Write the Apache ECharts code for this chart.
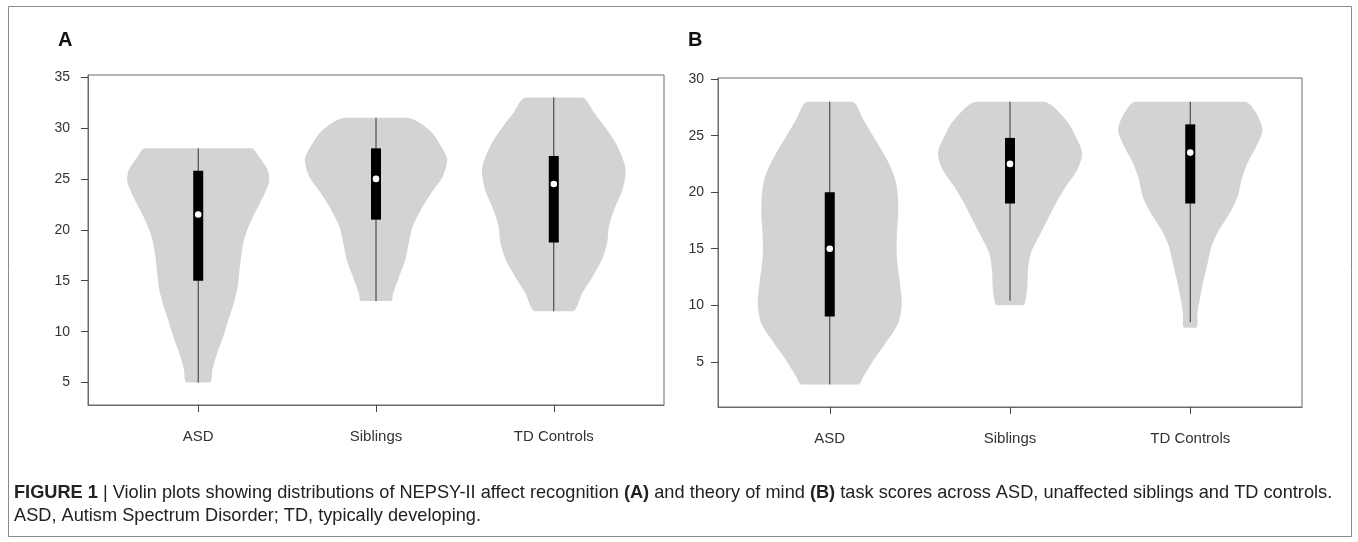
<!DOCTYPE html>
<html lang="en">
<head>
<meta charset="utf-8">
<title>NEPSY-II violin plots</title>
<script src="https://cdn.jsdelivr.net/npm/echarts@6.0.0/dist/echarts.min.js"></script>
<style>
  html, body { margin: 0; padding: 0; background: #fff; }
  #main { width: 1358px; height: 542px; }
</style>
</head>
<body>
<div id="main"></div>
<script>
// groups along the x axis (placed at 1, 2, 3)
var groups = ['ASD', 'Siblings', 'TD Controls'];

// box stats per group: [whisker low, q1, median, q3, whisker high]
var statsA = [
    [5, 15, 21.5, 25.8, 28],
    [13, 21, 25, 28, 31],
    [12, 18.75, 24.5, 27.25, 33]
];
var statsB = [
    [3, 9, 15, 20, 28],
    [10.4, 19, 22.5, 24.8, 28],
    [8.5, 19, 23.5, 26, 28]
];

// violin outlines, bottom to top: [score, half width in group units]
var violinA_asd = [[5, 0.066], [6.25, 0.08], [7.9, 0.107], [9.5, 0.14], [11.2, 0.17], [12.8, 0.2], [14.4, 0.222], [16, 0.232], [17.7, 0.244], [19.3, 0.262], [21, 0.3], [22.6, 0.347], [24, 0.385], [24.9, 0.4], [25.9, 0.39], [27.2, 0.34], [28, 0.3]];
var violinA_sib = [[13, 0.083], [13.8, 0.097], [15.4, 0.13], [17.05, 0.165], [18.7, 0.184], [20.3, 0.206], [22, 0.253], [23.6, 0.31], [25.2, 0.375], [26.9, 0.4], [28.5, 0.356], [29.8, 0.3], [31, 0.18]];
var violinA_td = [[12, 0.107], [13.8, 0.16], [15.4, 0.218], [17.05, 0.27], [18.7, 0.3], [20.3, 0.31], [22, 0.34], [23.9, 0.386], [25.9, 0.405], [28.2, 0.358], [29.8, 0.3], [31.5, 0.227], [33, 0.16]];
var violinB_asd = [[3, 0.157], [3.7, 0.187], [5.16, 0.243], [6.6, 0.307], [8.4, 0.38], [10.2, 0.4], [11.9, 0.39], [14.3, 0.372], [16.1, 0.372], [18.4, 0.38], [20.5, 0.372], [22, 0.344], [23.45, 0.298], [24.9, 0.243], [26.4, 0.187], [28, 0.126]];
var violinB_sib = [[10, 0.072], [10.5, 0.087], [11.65, 0.096], [13.1, 0.1], [14.6, 0.115], [16.1, 0.161], [17.55, 0.207], [19, 0.254], [20.5, 0.31], [22, 0.374], [23.45, 0.4], [24.9, 0.365], [26.4, 0.31], [28, 0.19]];
var violinB_td = [[8, 0.035], [9.3, 0.04], [10.8, 0.056], [12.2, 0.074], [13.7, 0.096], [15.2, 0.118], [16.7, 0.161], [18.1, 0.217], [19.6, 0.263], [21.1, 0.285], [22.6, 0.318], [24, 0.365], [25.5, 0.4], [27, 0.365], [28, 0.305]];

var ticksA = [5, 10, 15, 20, 25, 30, 35];
var ticksB = [5, 10, 15, 20, 25, 30];

var font = '"Liberation Sans", Arial, sans-serif';

// draws violin + whisker + box + median for one group
function violinItem(profiles, stats) {
    return function (params, api) {
        var idx = params.dataIndex;
        var pos = api.value(0);
        var prof = profiles[idx];
        var right = prof.map(function (p) { return api.coord([pos + p[1], p[0]]); });
        var left = prof.slice().reverse().map(function (p) { return api.coord([pos - p[1], p[0]]); });
        var pts = right.concat(left);
        var minX = Infinity, minY = Infinity, maxX = -Infinity, maxY = -Infinity;
        pts.forEach(function (p) {
            minX = Math.min(minX, p[0]); maxX = Math.max(maxX, p[0]);
            minY = Math.min(minY, p[1]); maxY = Math.max(maxY, p[1]);
        });
        var s = stats[idx];
        var lo = api.coord([pos, s[0]]);
        var q1 = api.coord([pos, s[1]]);
        var med = api.coord([pos, s[2]]);
        var q3 = api.coord([pos, s[3]]);
        var hi = api.coord([pos, s[4]]);
        return {
            type: 'group',
            children: [
                { type: 'polygon',
                  shape: { points: pts, smooth: 0.3, smoothConstraint: [[minX, minY], [maxX, maxY]] },
                  style: { fill: '#d3d3d3', stroke: null } },
                { type: 'line', shape: { x1: lo[0], y1: lo[1], x2: hi[0], y2: hi[1] },
                  style: { stroke: '#333', lineWidth: 1 } },
                { type: 'rect', shape: { x: q3[0] - 5, y: q3[1], width: 10, height: q1[1] - q3[1] },
                  style: { fill: '#000' } },
                { type: 'circle', shape: { cx: med[0], cy: med[1], r: 3.3 },
                  style: { fill: '#fff' } }
            ]
        };
    };
}

function xAxisFor(grid) {
    return {
        gridIndex: grid, type: 'value', min: 0.38, max: 3.62,
        axisLine: { show: true, lineStyle: { color: '#6b6b6b' } },
        splitLine: { show: false },
        axisTick: { show: true, customValues: [1, 2, 3], length: 7, lineStyle: { color: '#444' } },
        axisLabel: {
            customValues: [1, 2, 3], margin: 24, fontSize: 15, color: '#333', fontFamily: font,
            formatter: function (v) { return groups[Math.round(v) - 1]; }
        }
    };
}

function yAxisFor(grid, min, max, ticks, margin) {
    return {
        gridIndex: grid, type: 'value', min: min, max: max,
        axisLine: { show: true, lineStyle: { color: '#6b6b6b' } },
        splitLine: { show: false },
        axisTick: { show: true, customValues: ticks, length: 7, lineStyle: { color: '#444' } },
        axisLabel: { customValues: ticks, margin: margin, fontSize: 14, color: '#333', fontFamily: font }
    };
}

var chart = echarts.init(document.getElementById('main'));

chart.setOption({
    animation: false,
    backgroundColor: '#fff',
    grid: [
        { left: 88, top: 75, width: 576, height: 330, show: true, borderColor: '#6b6b6b', borderWidth: 1 },
        { left: 718, top: 78, width: 584, height: 329, show: true, borderColor: '#6b6b6b', borderWidth: 1 }
    ],
    xAxis: [xAxisFor(0), xAxisFor(1)],
    yAxis: [yAxisFor(0, 2.8, 35.2, ticksA, 18), yAxisFor(1, 1, 30.1, ticksB, 14)],
    series: [
        {
            type: 'custom', name: 'Affect recognition', xAxisIndex: 0, yAxisIndex: 0,
            renderItem: violinItem([violinA_asd, violinA_sib, violinA_td], statsA),
            encode: { x: 0, y: 1 },
            data: statsA.map(function (s, i) { return [i + 1, s[2]]; })
        },
        {
            type: 'custom', name: 'Theory of mind', xAxisIndex: 1, yAxisIndex: 1,
            renderItem: violinItem([violinB_asd, violinB_sib, violinB_td], statsB),
            encode: { x: 0, y: 1 },
            data: statsB.map(function (s, i) { return [i + 1, s[2]]; })
        }
    ],
    graphic: [
        { type: 'rect', shape: { x: 8.5, y: 6.5, width: 1343, height: 530 },
          style: { fill: null, stroke: '#8a8a8a', lineWidth: 1 }, silent: true },
        { type: 'text', left: 58, top: 30,
          style: { text: 'A', font: 'bold 20px ' + font, fill: '#111' } },
        { type: 'text', left: 688, top: 30,
          style: { text: 'B', font: 'bold 20px ' + font, fill: '#111' } },
        { type: 'text', left: 14, top: 484,
          style: {
              text: '{b|FIGURE 1} | Violin plots showing distributions of NEPSY-II affect recognition {b|(A)} and theory of mind {b|(B)} task scores across ASD, unaffected siblings and TD controls.',
              font: '18.2px ' + font, fill: '#222',
              rich: { b: { fontWeight: 'bold', fontSize: 18.2, fontFamily: font, fill: '#222' } }
          } },
        { type: 'text', left: 14, top: 507,
          style: { text: 'ASD, Autism Spectrum Disorder; TD, typically developing.', font: '18.2px ' + font, fill: '#222' } }
    ]
});
</script>
</body>
</html>
